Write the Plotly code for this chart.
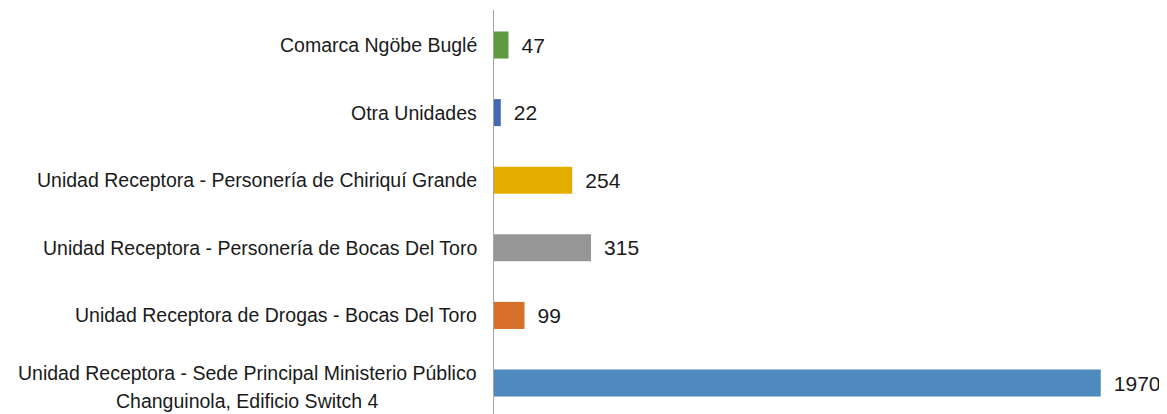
import plotly.graph_objects as go

# bottom to top, as drawn
categories = [
    "Unidad Receptora - Sede Principal Ministerio Público<br>Changuinola, Edificio Switch 4",
    "Unidad Receptora de Drogas - Bocas Del Toro",
    "Unidad Receptora - Personería de Bocas Del Toro",
    "Unidad Receptora - Personería de Chiriquí Grande",
    "Otra Unidades",
    "Comarca Ngöbe Buglé",
]
values = [1970, 99, 315, 254, 22, 47]
bar_colors = ['#4F8ABE', '#D6702B', '#969696', '#E5AD00', '#4169B5', '#5F9A3F']

font_family = "Liberation Sans, Arial, sans-serif"
text_color = '#1a1a1a'
line_gap = 28        # px between lines of a wrapped label
wrapped_center = -247  # px from the axis to the centre of a wrapped label

fig = go.Figure()

fig.add_trace(go.Bar(
    x=values,
    y=categories,
    orientation='h',
    width=0.4,
    marker=dict(color=bar_colors, line=dict(width=0)),
    text=['\u00a0\u2009' + str(v) for v in values],
    textposition='outside',
    textfont=dict(family=font_family, size=21, color=text_color),
    cliponaxis=False,
    hoverinfo='x+y',
))

# category labels as annotations; wrapped ones are centred line by line
for cat in categories:
    lines = cat.split('<br>')
    n = len(lines)
    for i, line in enumerate(lines):
        fig.add_annotation(
            x=0, xref='paper', y=cat, yref='y',
            text=line, showarrow=False,
            xanchor='right' if n == 1 else 'center',
            xshift=-15 if n == 1 else wrapped_center,
            yshift=(n - 1) / 2 * line_gap - i * line_gap - (4 if n > 1 else 0),
            font=dict(family=font_family, size=19.5, color=text_color),
        )

# the page body adds an 8px offset, so the figure is a bit smaller than the window
fig.update_layout(
    width=1159,
    height=406,
    margin=dict(l=486, r=57, t=2, b=0),
    paper_bgcolor='white',
    plot_bgcolor='white',
    showlegend=False,
    xaxis=dict(
        range=[0, 2000],
        visible=False,
        showgrid=False,
        zeroline=False,
    ),
    yaxis=dict(
        type='category',
        range=[-0.458, 5.518],
        showticklabels=False,
        ticks='',
        showgrid=False,
        zeroline=False,
        showline=True,
        linecolor='#a6a6a6',
        linewidth=1,
    ),
)

fig.write_html("out.html")
